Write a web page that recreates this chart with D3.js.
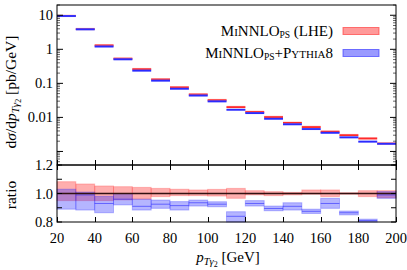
<!DOCTYPE html>
<html>
<head>
<meta charset="utf-8">
<script src="https://cdn.jsdelivr.net/npm/d3@7"></script>
<style>
  body { margin: 0; background: #fff; }
  svg text { font-family: "Liberation Serif", "DejaVu Serif", serif; fill: #000; }
</style>
</head>
<body>
<div id="chart"></div>
<script>
// bins in GeV
const binEdges = [20, 30, 40, 50, 60, 70, 80, 90, 100, 110, 120, 130, 140, 150, 160, 170, 180, 190, 200];

// MiNNLO_PS (LHE) central values, pb/GeV
const lheValues = [9.5, 3.9, 1.3, 0.53, 0.26, 0.13, 0.076, 0.047, 0.032, 0.020, 0.0144, 0.0102, 0.0069, 0.0052, 0.0038, 0.0030, 0.0024, 0.0017];

// ratio panel, LHE band (relative to itself)
const lheRatioLo = [0.95, 0.95, 0.95, 0.955, 0.96, 0.978, 0.985, 0.985, 0.982, 0.966, 0.99, 0.985, 0.99, 0.995, 0.978, 0.995, 0.978, 0.97];
const lheRatioHi = [1.083, 1.067, 1.053, 1.048, 1.043, 1.036, 1.03, 1.025, 1.029, 1.036, 1.02, 1.013, 1.008, 1.025, 1.025, 1.005, 1.02, 1.02];

// ratio panel, MiNNLO_PS+Pythia8 over LHE
const pyRatio = [1.0, 0.99, 0.93, 0.96, 0.91, 0.925, 0.915, 0.935, 0.925, 0.84, 0.93, 0.895, 0.91, 0.875, 0.93, 0.865, 0.81, 0.99];
const pyRatioLo = [0.89, 0.884, 0.865, 0.92, 0.884, 0.896, 0.884, 0.912, 0.907, 0.80, 0.912, 0.879, 0.884, 0.86, 0.896, 0.85, 0.795, 0.966];
const pyRatioHi = [1.03, 1.01, 0.98, 1.0, 0.96, 0.954, 0.943, 0.954, 0.942, 0.872, 0.95, 0.912, 0.935, 0.89, 0.966, 0.877, 0.82, 1.013];

const xTicks = [20, 40, 60, 80, 100, 120, 140, 160, 180, 200];
const yTopTicks = [10, 1, 0.1, 0.01];
const yTopTickLabels = ["10", "1", "0.1", "0.01"];
const yRatioTicks = [0.8, 0.9, 1.0, 1.1, 1.2];
const yRatioLabels = [0.8, 1.0, 1.2];

const W = 407, H = 270;
const left = 57, right = 396;
const topY = 5, midY = 165, botY = 222;
const fs = 14.5;

const svg = d3.select("#chart").append("svg")
  .attr("width", W).attr("height", H);

const x = d3.scaleLinear().domain([20, 200]).range([left, right]);
const yTop = d3.scaleLog().domain([4e-4, 20]).range([midY, topY]);
const yRat = d3.scaleLinear().domain([0.8, 1.2]).range([botY, midY]);

const red = "#ff2a2a", redBand = "#ff9a9a";
const blue = "#2a2aff", blueBand = "#9a9aff";

const bins = lheValues.map((v, i) => ({
  x0: binEdges[i], x1: binEdges[i + 1], lhe: v,
  rLo: lheRatioLo[i], rHi: lheRatioHi[i],
  p: pyRatio[i], pLo: pyRatioLo[i], pHi: pyRatioHi[i]
}));

// ---------- upper panel ----------
const gTop = svg.append("g");
function drawTopSeries(cls, centre, lo, hi, band, line) {
  gTop.selectAll("rect." + cls).data(bins).join("rect")
    .attr("class", cls)
    .attr("x", d => x(d.x0)).attr("width", d => x(d.x1) - x(d.x0))
    .attr("y", d => yTop(hi(d)) - 0.6)
    .attr("height", d => Math.max(1.5, yTop(lo(d)) - yTop(hi(d)) + 1.2))
    .attr("fill", band).attr("opacity", 0.7);
  gTop.selectAll("line." + cls).data(bins).join("line")
    .attr("class", cls)
    .attr("x1", d => x(d.x0)).attr("x2", d => x(d.x1))
    .attr("y1", d => yTop(centre(d))).attr("y2", d => yTop(centre(d)))
    .attr("stroke", line).attr("stroke-width", 1.8);
}
// show LHE with a slim band and the showered result just below
drawTopSeries("lhe", d => d.lhe, d => d.lhe * 0.985, d => d.lhe * 1.05, redBand, red);
drawTopSeries("py", d => d.lhe * d.p, d => d.lhe * d.p * 0.97, d => d.lhe * d.p * 1.02, blueBand, blue);

// ---------- ratio panel ----------
const gRat = svg.append("g");
gRat.selectAll("rect.lhe").data(bins).join("rect")
  .attr("x", d => x(d.x0)).attr("width", d => x(d.x1) - x(d.x0))
  .attr("y", d => yRat(d.rHi)).attr("height", d => yRat(d.rLo) - yRat(d.rHi))
  .attr("fill", red).attr("fill-opacity", 0.38)
  .attr("stroke", red).attr("stroke-opacity", 0.25).attr("stroke-width", 1);
gRat.selectAll("rect.py").data(bins).join("rect")
  .attr("x", d => x(d.x0)).attr("width", d => x(d.x1) - x(d.x0))
  .attr("y", d => yRat(Math.min(1.2, d.pHi)))
  .attr("height", d => yRat(Math.max(0.8, d.pLo)) - yRat(Math.min(1.2, d.pHi)))
  .attr("fill", blue).attr("fill-opacity", 0.35)
  .attr("stroke", blue).attr("stroke-opacity", 0.3).attr("stroke-width", 1);
gRat.selectAll("line.py").data(bins).join("line")
  .attr("x1", d => x(d.x0)).attr("x2", d => x(d.x1))
  .attr("y1", d => yRat(d.p)).attr("y2", d => yRat(d.p))
  .attr("stroke", blue).attr("stroke-opacity", 0.6).attr("stroke-width", 1);
gRat.append("line")
  .attr("x1", x(20)).attr("x2", x(200))
  .attr("y1", yRat(1)).attr("y2", yRat(1))
  .attr("stroke", "#331111").attr("stroke-width", 1.3);

// ---------- frames & ticks ----------
const axes = svg.append("g").attr("stroke", "#000").attr("fill", "none");
axes.append("rect").attr("x", left).attr("y", topY)
  .attr("width", right - left).attr("height", midY - topY).attr("stroke-width", 1);
axes.append("rect").attr("x", left).attr("y", midY)
  .attr("width", right - left).attr("height", botY - midY).attr("stroke-width", 1);

// x ticks: bottom of ratio, both sides of the shared border
xTicks.forEach(t => {
  const xx = Math.round(x(t)) + 0.5;
  axes.append("line").attr("x1", xx).attr("x2", xx).attr("y1", botY).attr("y2", botY - 5);
  axes.append("line").attr("x1", xx).attr("x2", xx).attr("y1", midY).attr("y2", midY + 5);
  axes.append("line").attr("x1", xx).attr("x2", xx).attr("y1", midY).attr("y2", midY - 5);
});

// log ticks, major and minor, on both sides
const [lo, hi] = yTop.domain();
for (let e = -4; e <= 1; e++) {
  for (let m = 1; m <= 9; m++) {
    const v = m * Math.pow(10, e);
    if (v < lo || v > hi) continue;
    const yy = yTop(v);
    const len = m === 1 ? 6 : 3;
    axes.append("line").attr("x1", left).attr("x2", left + len).attr("y1", yy).attr("y2", yy)
      .attr("stroke-opacity", m === 1 ? 1 : 0.6);
    axes.append("line").attr("x1", right).attr("x2", right - len).attr("y1", yy).attr("y2", yy)
      .attr("stroke-opacity", m === 1 ? 1 : 0.6);
  }
}
yRatioTicks.forEach(t => {
  const yy = yRat(t);
  axes.append("line").attr("x1", left).attr("x2", left + 5).attr("y1", yy).attr("y2", yy);
  axes.append("line").attr("x1", right).attr("x2", right - 5).attr("y1", yy).attr("y2", yy);
});

// ---------- tick labels ----------
const labels = svg.append("g").attr("font-size", fs);
xTicks.forEach(t => {
  labels.append("text").attr("x", x(t)).attr("y", 243)
    .attr("text-anchor", "middle").text(t);
});
yTopTicks.forEach((t, i) => {
  labels.append("text").attr("x", 53).attr("y", yTop(t) + 5)
    .attr("text-anchor", "end").text(yTopTickLabels[i]);
});
yRatioLabels.forEach(t => {
  labels.append("text").attr("x", 53).attr("y", yRat(t) + 5)
    .attr("text-anchor", "end").text(t.toFixed(1));
});

// ---------- axis titles ----------
const ylab = svg.append("text").attr("font-size", 15.5)
  .attr("transform", "translate(16,92) rotate(-90)").attr("text-anchor", "middle");
ylab.append("tspan").text("d");
ylab.append("tspan").attr("font-style", "italic").text("σ");
ylab.append("tspan").text("/d");
ylab.append("tspan").attr("font-style", "italic").text("p");
ylab.append("tspan").attr("font-style", "italic").attr("font-size", 11).attr("dy", 3).text("Tγ");
ylab.append("tspan").attr("font-size", 8).attr("dy", 2).text("2");
ylab.append("tspan").attr("dy", -5).text(" [pb/GeV]");

svg.append("text").attr("font-size", 15.5)
  .attr("transform", "translate(16,195) rotate(-90)").attr("text-anchor", "middle").text("ratio");

const xlab = svg.append("text").attr("font-size", 15).attr("x", 228).attr("y", 262)
  .attr("text-anchor", "middle");
xlab.append("tspan").attr("font-style", "italic").text("p");
xlab.append("tspan").attr("font-style", "italic").attr("font-size", 10.5).attr("dy", 3).text("Tγ");
xlab.append("tspan").attr("font-size", 8).attr("dy", 2).text("2");
xlab.append("tspan").attr("dy", -5).text(" [GeV]");

// ---------- legend ----------
const legendItems = [
  { name: "MiNNLO", sub: "PS", tail: " (LHE)", band: redBand, line: red, y: 31 },
  { name: "MiNNLO", sub: "PS", tail: "+Pythia8", band: blueBand, line: blue, y: 53 }
];
legendItems.forEach(it => {
  const t = svg.append("text").attr("font-size", 15).attr("x", 333).attr("y", it.y + 5)
    .attr("text-anchor", "end").attr("font-variant", "small-caps");
  t.append("tspan").text(it.name);
  t.append("tspan").attr("font-size", 9.5).attr("dy", 2).text(it.sub);
  t.append("tspan").attr("dy", -2).text(it.tail);
  svg.append("rect").attr("x", 343).attr("y", it.y - 3.5).attr("width", 36).attr("height", 7)
    .attr("fill", it.band).attr("stroke", it.line).attr("stroke-opacity", 0.6);
});
</script>
</body>
</html>
